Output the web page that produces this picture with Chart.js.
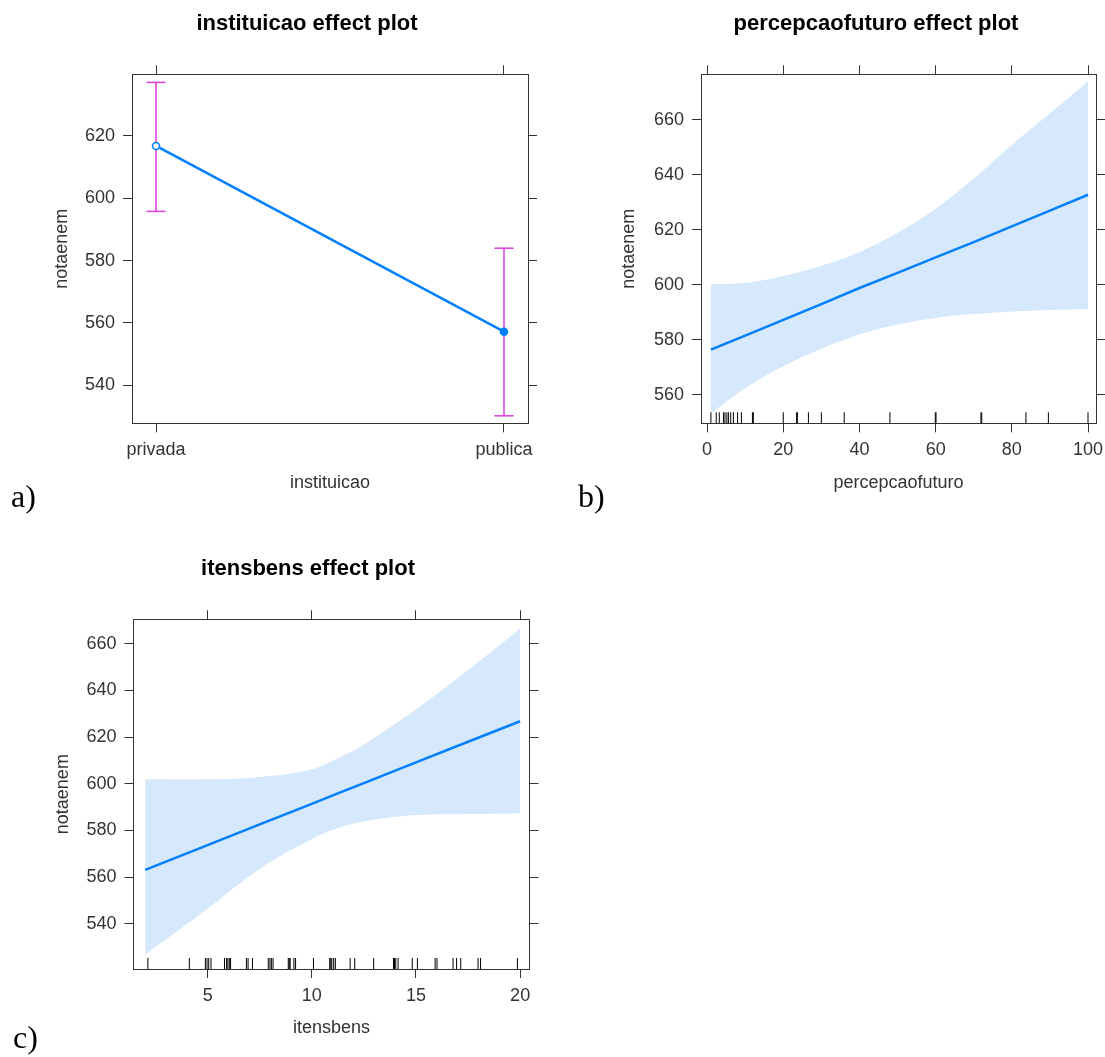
<!DOCTYPE html>
<html>
<head>
<meta charset="utf-8">
<script src="https://cdn.jsdelivr.net/npm/chart.js@4.4.0/dist/chart.umd.min.js"></script>
<style>
html,body{margin:0;padding:0;background:#fff;overflow:hidden;width:1105px;height:1057px;}
#wrap{position:relative;width:1105px;height:1057px;overflow:hidden;background:#fff;}
canvas{position:absolute;}
.lab{position:absolute;font-family:"Liberation Serif","Times New Roman",serif;font-size:32px;line-height:32px;color:#000;white-space:nowrap;}
</style>
</head>
<body>
<div id="wrap">
<canvas id="ca" width="600" height="510" style="left:7px;top:0px;width:600px;height:510px"></canvas>
<canvas id="cb" width="520" height="510" style="left:616px;top:0px;width:520px;height:510px"></canvas>
<canvas id="cc" width="600" height="512" style="left:7.5px;top:545px;width:600px;height:512px"></canvas>
<div class="lab" style="left:11px;top:480px">a)</div>
<div class="lab" style="left:578px;top:480px">b)</div>
<div class="lab" style="left:13px;top:1021px">c)</div>
</div>
<script>
// ---------- data ----------
// a) instituicao effect plot
const instCategories = ['privada', 'publica'];
const instFit   = [616.8, 557.2];
const instLower = [595.8, 530.2];
const instUpper = [637.2, 584.0];
const instYTicks = [540, 560, 580, 600, 620];

// b) percepcaofuturo effect plot
const percX     = [1, 10, 20, 30, 40, 50, 60, 70, 80, 90, 100];
const percFit   = [576.5, 581.6, 587.3, 593.0, 598.9, 604.4, 610.0, 615.6, 621.3, 627.0, 632.8];
const percUpper = [600.2, 600.8, 603.3, 607.0, 612.0, 619.0, 627.7, 638.7, 650.9, 662.4, 674.0];
const percLower = [553.3, 562.4, 570.4, 576.8, 582.0, 585.6, 588.0, 589.4, 590.3, 590.9, 591.3];
const percRug   = [1, 2.4, 3.2, 4.3, 4.7, 5.2, 5.6, 6.2, 6.9, 8, 9, 11.9, 12.15, 20, 23.5, 23.7, 26.6, 30, 36, 48, 59.9, 60.1, 71.9, 72.1, 83.7, 89.6, 100];
const percXTicks = [0, 20, 40, 60, 80, 100];
const percYTicks = [560, 580, 600, 620, 640, 660];

// c) itensbens effect plot
const itensX     = [2, 5, 7.5, 10, 11.25, 12.5, 15, 17.5, 20];
const itensFit   = [563.1, 573.7, 582.6, 591.4, 595.9, 600.3, 609.2, 618.0, 626.8];
const itensUpper = [601.9, 601.9, 602.9, 606.2, 610.9, 616.8, 631.9, 648.8, 666.5];
const itensLower = [526.6, 546.5, 563.5, 576.3, 580.9, 583.8, 586.6, 587.0, 587.3];
const itensRug   = [2.13, 4.12, 4.89, 4.97, 5.05, 5.16, 5.81, 5.91, 5.97, 6.04, 6.10, 6.86, 6.94, 7.15,
                    7.91, 7.99, 8.06, 8.14, 8.87, 8.92, 8.96, 9.14, 9.22, 10.08, 10.86, 10.91, 10.96, 11.05, 11.13,
                    11.84, 12.06, 12.97, 13.92, 13.97, 14.03, 14.14, 14.82, 15.07, 15.92, 16.01, 16.78, 16.95, 17.15,
                    17.98, 18.10, 19.87];
const itensXTicks = [5, 10, 15, 20];
const itensYTicks = [540, 560, 580, 600, 620, 640, 660];

// ---------- styling ----------
const BLUE = '#0080ff';
const MAG  = '#e03ce0';
const BAND = '#d6e8fb';
const INK  = '#333333';
const FONT = '"Liberation Sans", Arial, Helvetica, sans-serif';

function axisBase() {
  return {
    border: {display: true, color: INK, width: 1},
    grid: {display: true, drawOnChartArea: false, drawTicks: true, tickLength: 9, color: INK, lineWidth: 1}
  };
}

function buildScales(g) {
  const setTicks = vals => s => { s.ticks = vals.map(v => ({value: v})); };
  return {
    x: Object.assign(axisBase(), {
      type: 'linear', position: 'bottom', min: g.xMin, max: g.xMax,
      afterBuildTicks: setTicks(g.xTicks),
      ticks: {display: true, autoSkip: false, maxRotation: 0, padding: g.xTickPad, color: INK,
              font: {family: FONT, size: 18}, callback: g.xFmt || (v => String(v))},
      title: {display: true, text: g.xTitle, color: INK, font: {family: FONT, size: 18},
              padding: {top: 0, bottom: g.xTitlePad}},
      afterFit: s => { s.height = g.xH; }
    }),
    x2: Object.assign(axisBase(), {
      type: 'linear', position: 'top', min: g.xMin, max: g.xMax,
      afterBuildTicks: setTicks(g.xTicks),
      ticks: {display: false},
      afterFit: s => { s.height = g.x2H; }
    }),
    y: Object.assign(axisBase(), {
      type: 'linear', position: 'left', min: g.yMin, max: g.yMax,
      afterBuildTicks: setTicks(g.yTicks),
      ticks: {display: true, autoSkip: false, padding: 8, color: INK, font: {family: FONT, size: 18},
              callback: v => String(v)},
      title: {display: true, text: g.yTitle, color: INK, font: {family: FONT, size: 18},
              padding: {top: g.yTitlePad, bottom: 0}},
      afterFit: s => { s.width = g.yW; }
    }),
    y2: Object.assign(axisBase(), {
      type: 'linear', position: 'right', min: g.yMin, max: g.yMax,
      afterBuildTicks: setTicks(g.yTicks),
      ticks: {display: false},
      afterFit: s => { s.width = g.y2W; }
    })
  };
}

function options(g) {
  return {
    responsive: false,
    animation: false,
    devicePixelRatio: 1,
    events: [],
    layout: {padding: 0},
    plugins: {
      legend: {display: false},
      tooltip: {enabled: false},
      title: {display: true, text: g.title, color: '#000',
              font: {family: FONT, size: 22, weight: 'bold'}, padding: {top: 11.1, bottom: 0}}
    },
    scales: buildScales(g)
  };
}

function bandSets(xs, fit, upper, lower, rug, yMin) {
  const pts = arr => xs.map((x, i) => ({x: x, y: arr[i]}));
  return [
    {data: pts(fit), showLine: true, borderColor: BLUE, borderWidth: 2.5, pointRadius: 0,
     tension: 0, clip: false},
    {data: rug.map(v => ({x: v, y: yMin})), showLine: false, pointStyle: 'line', rotation: 90,
     pointRadius: 11, pointBorderColor: '#000', pointBorderWidth: 1, pointBackgroundColor: '#000', clip: 0},
    {data: pts(upper), showLine: true, borderColor: 'rgba(0,0,0,0)', borderWidth: 0, pointRadius: 0,
     backgroundColor: BAND, fill: '+1', tension: 0.4},
    {data: pts(lower), showLine: true, borderColor: 'rgba(0,0,0,0)', borderWidth: 0, pointRadius: 0,
     backgroundColor: BAND, fill: false, tension: 0.4}
  ];
}

// ---------- a) ----------
new Chart(document.getElementById('ca'), {
  type: 'scatter',
  data: {datasets: [
    {data: instCategories.map((c, i) => ({x: i, y: instFit[i]})), showLine: true,
     borderColor: BLUE, borderWidth: 2.5, pointRadius: 3.5, pointBorderWidth: 1.6, pointBorderColor: BLUE,
     pointBackgroundColor: instCategories.map((c, i) => i === 0 ? '#ffffff' : BLUE), clip: false}
  ].concat(instCategories.map((c, i) => ({
     data: [{x: i, y: instLower[i]}, {x: i, y: instUpper[i]}], showLine: true,
     borderColor: MAG, borderWidth: 1.5, pointStyle: 'line', pointRadius: 9.5,
     pointBorderColor: MAG, pointBorderWidth: 1.5, clip: false})))
  },
  options: options({
    title: 'instituicao effect plot', xTitle: 'instituicao', yTitle: 'notaenem',
    xMin: -0.069, xMax: 1.069, yMin: 527.8, yMax: 639.8,
    xTicks: [0, 1], yTicks: instYTicks, xFmt: v => instCategories[v],
    yW: 125, y2W: 79, x2H: 36.8, xH: 86.7, xTickPad: 6.9, xTitlePad: 16.4, yTitlePad: 44.2
  })
});

// ---------- b) ----------
new Chart(document.getElementById('cb'), {
  type: 'scatter',
  data: {datasets: bandSets(percX, percFit, percUpper, percLower, percRug, 549.7)},
  options: options({
    title: 'percepcaofuturo effect plot', xTitle: 'percepcaofuturo', yTitle: 'notaenem',
    xMin: -1.6, xMax: 102.1, yMin: 549.7, yMax: 676.6,
    xTicks: percXTicks, yTicks: percYTicks,
    yW: 85, y2W: 40, x2H: 36.8, xH: 86.7, xTickPad: 6.9, xTitlePad: 15.8, yTitlePad: 2.2
  })
});

// ---------- c) ----------
new Chart(document.getElementById('cc'), {
  type: 'scatter',
  data: {datasets: bandSets(itensX, itensFit, itensUpper, itensLower, itensRug, 520.6)},
  options: options({
    title: 'itensbens effect plot', xTitle: 'itensbens', yTitle: 'notaenem',
    xMin: 1.44, xMax: 20.45, yMin: 520.6, yMax: 670.5,
    xTicks: itensXTicks, yTicks: itensYTicks,
    yW: 125.5, y2W: 78.5, x2H: 36.8, xH: 88, xTickPad: 6.9, xTitlePad: 17.9, yTitlePad: 44.7
  })
});
</script>
</body>
</html>
